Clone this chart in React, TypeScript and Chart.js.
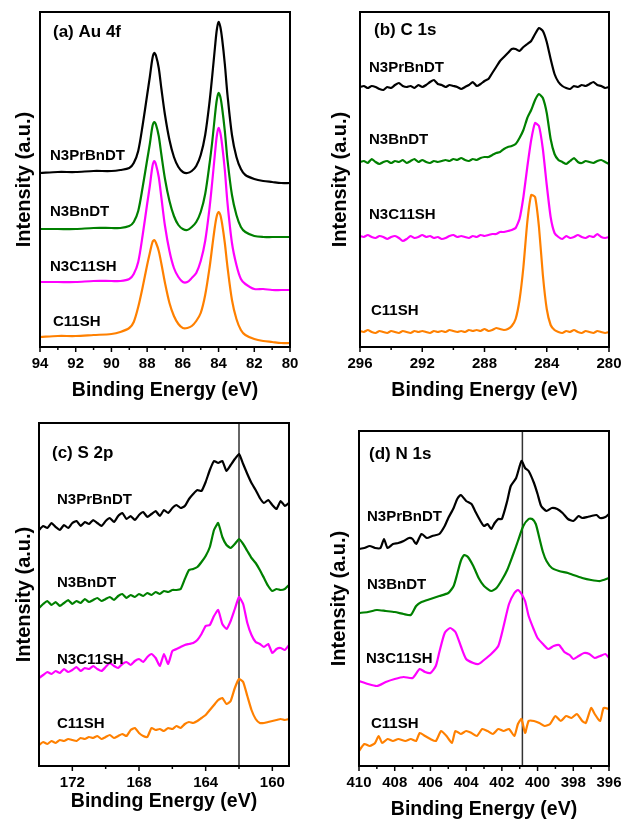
import React, { useEffect, useRef } from 'react';
import { Chart, registerables } from 'chart.js';

Chart.register(...registerables);

const FONT = "'Liberation Sans', Arial, Helvetica, sans-serif";
const SERIES_NAMES = ['N3PrBnDT', 'N3BnDT', 'N3C11SH', 'C11SH'];
const SERIES_COLORS = ['#000000', '#008000', '#ff00ff', '#ff8000'];
const X_TITLE = 'Binding Energy (eV)';
const Y_TITLE = 'Intensity (a.u.)';

// ---------- (a) Au 4f ----------
const auBE = [94, 93, 92, 91, 90, 89.5, 89, 88.75, 88.5, 88.25, 88, 87.85, 87.7, 87.6, 87.5, 87.35, 87.2, 87, 86.75, 86.5, 86.25, 86, 85.75, 85.5, 85.25, 85, 84.75, 84.5, 84.35, 84.2, 84.1, 84, 83.9, 83.8, 83.65, 83.5, 83.25, 83, 82.75, 82.5, 82, 81.5, 81, 80.5, 80];
const auN3PrBnDT = [174, 175, 175, 176, 176, 177, 179, 184, 196, 222, 252, 270, 289, 294, 291, 279, 258, 232, 207, 190, 180, 175, 174, 176, 181, 192, 212, 246, 272, 300, 317, 325, 320, 308, 283, 252, 212, 190, 178, 172, 168, 166, 165, 164, 164];
const auN3BnDT = [118, 118, 118, 119, 119, 119, 121, 125, 136, 160, 187, 203, 221, 225, 222, 211, 192, 168, 146, 131, 122, 118, 117, 120, 125, 135, 153, 184, 206, 232, 247, 254, 250, 239, 216, 187, 152, 132, 120, 115, 111, 110, 110, 110, 110];
const auN3C11SH = [65, 65, 65, 66, 66, 66, 68, 73, 85, 112, 143, 161, 181, 186, 182, 170, 149, 121, 96, 79, 70, 65, 65, 69, 74, 86, 106, 140, 166, 194, 211, 219, 214, 202, 177, 144, 104, 82, 68, 63, 58, 58, 57, 57, 57];
const auC11SH = [10, 11, 11, 12, 13, 15, 19, 25, 40, 60, 82, 94, 105, 107, 104, 96, 83, 64, 44, 31, 23, 19, 19, 21, 26, 34, 52, 80, 101, 121, 131, 135, 132, 123, 104, 80, 47, 28, 17, 12, 8, 6, 5, 4, 4];
const auMajorTicks = [94, 92, 90, 88, 86, 84, 82, 80];
const auMinorTicks = [93, 91, 89, 87, 85, 83, 81];

// ---------- (b) C 1s ----------
const c1sBE = [296, 295.75, 295.5, 295.25, 295, 294.75, 294.5, 294.25, 294, 293.75, 293.5, 293.25, 293, 292.75, 292.5, 292.25, 292, 291.75, 291.5, 291.25, 291, 290.75, 290.5, 290.25, 290, 289.75, 289.5, 289.25, 289, 288.75, 288.5, 288.25, 288, 287.75, 287.5, 287.25, 287, 286.75, 286.5, 286.25, 286, 285.75, 285.5, 285.25, 285, 284.75, 284.5, 284.25, 284, 283.75, 283.5, 283.25, 283, 282.75, 282.5, 282.25, 282, 281.75, 281.5, 281.25, 281, 280.75, 280.5, 280.25, 280];
const c1sN3PrBnDT = [260, 261, 259, 261, 260, 258, 257, 260, 259, 262, 264, 261, 260, 261, 259, 262, 260, 262, 265, 267, 263, 262, 260, 262, 261, 260, 258, 260, 262, 265, 261, 263, 266, 268, 274, 280, 286, 290, 294, 298, 298, 296, 300, 303, 306, 313, 319, 316, 305, 288, 273, 265, 261, 259, 258, 261, 260, 262, 261, 263, 265, 262, 261, 259, 260];
const c1sN3BnDT = [185, 186, 184, 188, 185, 183, 185, 186, 184, 186, 185, 187, 184, 186, 188, 185, 187, 185, 184, 186, 185, 186, 187, 186, 188, 187, 189, 187, 186, 188, 187, 189, 190, 190, 192, 194, 195, 198, 200, 201, 203, 209, 217, 229, 237, 247, 253, 249, 234, 208, 193, 187, 185, 183, 186, 189, 185, 184, 186, 185, 184, 186, 187, 185, 183];
const c1sN3C11SH = [111, 110, 112, 110, 109, 111, 110, 108, 110, 111, 109, 106, 108, 111, 109, 110, 112, 110, 111, 109, 110, 108, 109, 111, 112, 110, 111, 110, 109, 111, 110, 112, 111, 112, 113, 113, 115, 115, 116, 117, 119, 128, 150, 180, 207, 224, 221, 198, 162, 130, 114, 110, 108, 111, 109, 110, 112, 110, 109, 111, 110, 113, 110, 109, 110];
const c1sC11SH = [16, 15, 17, 15, 14, 16, 15, 14, 16, 15, 14, 16, 15, 14, 16, 15, 16, 15, 14, 16, 15, 16, 15, 17, 16, 15, 16, 15, 17, 16, 17, 16, 18, 16, 17, 19, 18, 17, 18, 21, 28, 47, 80, 125, 152, 150, 120, 72, 38, 22, 17, 15, 14, 16, 15, 17, 15, 14, 16, 15, 14, 16, 15, 14, 15];
const c1sMajorTicks = [296, 292, 288, 284, 280];
const c1sMinorTicks = [294, 290, 286, 282];

// ---------- (c) S 2p ----------
const s2pBE = [174, 173.75, 173.5, 173.25, 173, 172.75, 172.5, 172.25, 172, 171.75, 171.5, 171.25, 171, 170.75, 170.5, 170.25, 170, 169.75, 169.5, 169.25, 169, 168.75, 168.5, 168.25, 168, 167.75, 167.5, 167.25, 167, 166.75, 166.5, 166.25, 166, 165.75, 165.5, 165.25, 165, 164.75, 164.5, 164.25, 164, 163.75, 163.5, 163.25, 163, 162.75, 162.5, 162.25, 162, 161.75, 161.5, 161.25, 161, 160.75, 160.5, 160.25, 160, 159.75, 159.5, 159.25, 159];
const s2pN3PrBnDT = [236, 240, 238, 243, 239, 236, 241, 238, 243, 245, 240, 244, 242, 246, 243, 240, 245, 248, 244, 250, 253, 247, 250, 246, 251, 254, 249, 252, 255, 250, 256, 253, 258, 261, 258, 260, 267, 272, 276, 275, 284, 296, 305, 303, 305, 295, 301, 307, 312, 302, 292, 283, 276, 268, 263, 266, 261, 257, 265, 260, 263];
const s2pN3BnDT = [158, 162, 165, 161, 164, 160, 163, 166, 162, 165, 163, 167, 164, 166, 168, 165, 167, 169, 166, 170, 172, 168, 171, 169, 172, 170, 173, 171, 174, 172, 175, 174, 176, 176, 177, 187, 196, 197, 199, 204, 210, 219, 236, 243, 229, 221, 218, 222, 227, 222, 215, 208, 203, 196, 188, 180, 175, 177, 176, 177, 181];
const s2pN3C11SH = [88, 91, 94, 92, 95, 93, 97, 94, 96, 99, 95, 98, 97, 100, 97, 95, 99, 103, 100, 98, 102, 104, 101, 105, 107, 104, 109, 112, 108, 100, 112, 102, 115, 117, 119, 121, 122, 123, 126, 132, 140, 141, 150, 156, 142, 137, 145, 157, 169, 162, 143, 131, 124, 122, 119, 122, 113, 117, 118, 116, 121];
const s2pC11SH = [21, 24, 22, 25, 23, 26, 25, 27, 26, 25, 28, 27, 29, 28, 30, 27, 29, 31, 28, 30, 32, 30, 36, 38, 33, 30, 29, 38, 36, 37, 35, 38, 37, 40, 38, 42, 44, 43, 45, 48, 51, 56, 61, 66, 68, 62, 65, 78, 87, 84, 70, 56, 47, 43, 43, 44, 45, 46, 47, 46, 47];
const s2pMajorTicks = [172, 168, 164, 160];
const s2pMinorTicks = [170, 166, 162];
const s2pMarker = 162;

// ---------- (d) N 1s ----------
const n1sBE_N3PrBnDT = [410, 409.7, 409.4, 409.1, 408.8, 408.6, 408.4, 408.1, 407.8, 407.5, 407.2, 407, 406.8, 406.5, 406.2, 405.9, 405.5, 405.2, 405, 404.7, 404.5, 404.3, 404, 403.7, 403.5, 403.2, 403, 402.8, 402.6, 402.4, 402.2, 402, 401.7, 401.5, 401.2, 400.9, 400.7, 400.5, 400.2, 400, 399.8, 399.5, 399.2, 398.9, 398.6, 398.3, 398, 397.7, 397.5, 397.2, 397, 396.7, 396.5, 396.2, 396];
const n1sN3PrBnDT = [217, 218, 220, 218, 218, 227, 218, 222, 223, 225, 228, 227, 222, 232, 228, 230, 232, 240, 248, 258, 267, 271, 265, 262, 255, 245, 240, 242, 237, 243, 247, 247, 265, 280, 288, 305, 298, 295, 283, 272, 260, 255, 258, 257, 253, 247, 245, 250, 248, 249, 250, 251, 248, 249, 252];
const n1sBE_N3BnDT = [410, 409.5, 409, 408.5, 408, 407.5, 407.1, 406.8, 406.5, 406, 405.5, 405, 404.7, 404.5, 404.3, 404.1, 403.9, 403.6, 403.3, 403, 402.6, 402.3, 402, 401.7, 401.4, 401.1, 400.8, 400.5, 400.3, 400.1, 399.9, 399.7, 399.5, 399.2, 398.8, 398.3, 398, 397.5, 397, 396.5, 396];
const n1sN3BnDT = [153, 154, 156, 155, 154, 152, 151, 160, 164, 167, 170, 173, 180, 192, 205, 211, 209, 200, 188, 180, 175, 178, 186, 196, 210, 225, 240, 247, 247, 242, 228, 214, 205, 198, 195, 193, 191, 188, 186, 185, 188];
const n1sBE_N3C11SH = [410, 409.5, 409, 408.5, 408, 407.5, 407, 406.6, 406.3, 406, 405.7, 405.5, 405.2, 404.9, 404.6, 404.3, 404, 403.6, 403.3, 403, 402.6, 402.2, 401.9, 401.6, 401.3, 401.1, 400.9, 400.7, 400.5, 400.2, 400, 399.7, 399.4, 399.1, 398.8, 398.5, 398.2, 398, 397.7, 397.4, 397.1, 396.8, 396.5, 396.2, 396];
const n1sN3C11SH = [85, 82, 80, 84, 87, 89, 88, 97, 94, 93, 100, 114, 133, 138, 134, 120, 107, 103, 102, 106, 112, 120, 140, 162, 173, 176, 172, 165, 150, 136, 128, 122, 117, 120, 121, 114, 111, 107, 110, 113, 112, 108, 110, 112, 108];
const n1sBE_C11SH = [410, 409.7, 409.4, 409.1, 408.9, 408.7, 408.4, 408.1, 407.8, 407.4, 407.1, 406.8, 406.6, 406.3, 406, 405.7, 405.4, 405.1, 404.8, 404.6, 404.3, 404, 403.7, 403.4, 403.1, 402.8, 402.5, 402.2, 401.9, 401.6, 401.3, 401.1, 400.9, 400.7, 400.5, 400.2, 399.9, 399.6, 399.3, 399, 398.7, 398.4, 398.1, 397.8, 397.5, 397.3, 397, 396.8, 396.5, 396.3, 396];
const n1sC11SH = [15, 22, 20, 23, 30, 23, 27, 25, 27, 25, 27, 25, 33, 30, 27, 25, 35, 30, 23, 35, 32, 35, 33, 30, 37, 35, 32, 37, 35, 37, 30, 42, 47, 33, 45, 45, 43, 40, 42, 50, 45, 50, 48, 52, 45, 43, 58, 52, 45, 58, 57];
const n1sMajorTicks = [410, 408, 406, 404, 402, 400, 398, 396];
const n1sMinorTicks = [409, 407, 405, 403, 401, 399, 397];
const n1sMarker = 400.85;

type Series = { x: number[]; y: number[] };
type PanelDef = {
  key: string;
  left: number; top: number; width: number; height: number;
  area: { left: number; top: number; right: number; bottom: number };
  xMin: number; xMax: number; yMax: number;
  major: number[]; minor: number[];
  series: Series[];
  tension: number;
  marker?: number;
  title: string; titlePos: [number, number];
  labelPos: [number, number][];
  yTitlePad: number; xTitlePad: number;
};

const PANELS: PanelDef[] = [
  {
    key: 'a', left: 0, top: 0, width: 312, height: 411,
    area: { left: 40, top: 12, right: 290, bottom: 347 },
    xMin: 80, xMax: 94, yMax: 335,
    major: auMajorTicks, minor: auMinorTicks,
    series: [
      { x: auBE, y: auN3PrBnDT }, { x: auBE, y: auN3BnDT },
      { x: auBE, y: auN3C11SH }, { x: auBE, y: auC11SH },
    ],
    tension: 0.3,
    title: '(a) Au 4f', titlePos: [53, 32],
    labelPos: [[50, 156], [50, 212], [50, 267], [53, 322]],
    yTitlePad: 12, xTitlePad: 9,
  },
  {
    key: 'b', left: 312, top: 0, width: 313, height: 411,
    area: { left: 48, top: 12, right: 297, bottom: 347 },
    xMin: 280, xMax: 296, yMax: 335,
    major: c1sMajorTicks, minor: c1sMinorTicks,
    series: [
      { x: c1sBE, y: c1sN3PrBnDT }, { x: c1sBE, y: c1sN3BnDT },
      { x: c1sBE, y: c1sN3C11SH }, { x: c1sBE, y: c1sC11SH },
    ],
    tension: 0.15,
    title: '(b) C 1s', titlePos: [62, 30],
    labelPos: [[57, 68], [57, 140], [57, 215], [59, 311]],
    yTitlePad: 16, xTitlePad: 9,
  },
  {
    key: 'c', left: 0, top: 411, width: 312, height: 411,
    area: { left: 39, top: 12, right: 289, bottom: 355 },
    xMin: 159, xMax: 174, yMax: 343,
    major: s2pMajorTicks, minor: s2pMinorTicks,
    series: [
      { x: s2pBE, y: s2pN3PrBnDT }, { x: s2pBE, y: s2pN3BnDT },
      { x: s2pBE, y: s2pN3C11SH }, { x: s2pBE, y: s2pC11SH },
    ],
    tension: 0.15,
    marker: s2pMarker,
    title: '(c) S 2p', titlePos: [52, 42],
    labelPos: [[57, 89], [57, 172], [57, 249], [57, 313]],
    yTitlePad: 12, xTitlePad: 9,
  },
  {
    key: 'd', left: 312, top: 411, width: 313, height: 411,
    area: { left: 47, top: 20, right: 297, bottom: 355 },
    xMin: 396, xMax: 410, yMax: 335,
    major: n1sMajorTicks, minor: n1sMinorTicks,
    series: [
      { x: n1sBE_N3PrBnDT, y: n1sN3PrBnDT }, { x: n1sBE_N3BnDT, y: n1sN3BnDT },
      { x: n1sBE_N3C11SH, y: n1sN3C11SH }, { x: n1sBE_C11SH, y: n1sC11SH },
    ],
    tension: 0.2,
    marker: n1sMarker,
    title: '(d) N 1s', titlePos: [57, 43],
    labelPos: [[55, 106], [55, 174], [54, 248], [59, 313]],
    yTitlePad: 15, xTitlePad: 1,
  },
];

function PanelChart({ p }: { p: PanelDef }) {
  const ref = useRef<HTMLCanvasElement>(null);

  useEffect(() => {
    const canvas = ref.current;
    if (!canvas) return;

    const datasets: any[] = p.series.map((s, i) => ({
      label: SERIES_NAMES[i],
      data: s.x.map((x, j) => ({ x, y: s.y[j] })),
      borderColor: SERIES_COLORS[i],
      backgroundColor: SERIES_COLORS[i],
      borderWidth: 2.2,
      pointRadius: 0,
      tension: p.tension,
      fill: false,
    }));
    if (p.marker !== undefined) {
      datasets.push({
        label: 'marker',
        data: [{ x: p.marker, y: 0 }, { x: p.marker, y: p.yMax }],
        borderColor: '#333333',
        borderWidth: 1.5,
        pointRadius: 0,
        tension: 0,
        fill: false,
      });
    }

    const allTicks = [...p.major, ...p.minor].sort((a, b) => a - b);

    const overlay = {
      id: 'overlay' + p.key,
      afterDraw(chart: any) {
        const { ctx, chartArea: ca } = chart;
        const xs = chart.scales.x;
        ctx.save();
        ctx.strokeStyle = '#000';
        ctx.lineWidth = 2;
        ctx.strokeRect(ca.left, ca.top, ca.right - ca.left, ca.bottom - ca.top);
        ctx.lineWidth = 1.5;
        const drawTick = (v: number, len: number) => {
          const px = xs.getPixelForValue(v);
          ctx.beginPath();
          ctx.moveTo(px, ca.bottom);
          ctx.lineTo(px, ca.bottom + len);
          ctx.stroke();
        };
        p.major.forEach((v) => drawTick(v, 5));
        p.minor.forEach((v) => drawTick(v, 3));
        ctx.fillStyle = '#000';
        ctx.textBaseline = 'middle';
        ctx.textAlign = 'left';
        ctx.font = `bold 17px ${FONT}`;
        ctx.fillText(p.title, p.titlePos[0], p.titlePos[1]);
        ctx.font = `bold 15px ${FONT}`;
        p.labelPos.forEach((pos, i) => ctx.fillText(SERIES_NAMES[i], pos[0], pos[1]));
        ctx.restore();
      },
    };

    const chart = new Chart(canvas, {
      type: 'line',
      data: { datasets },
      options: {
        animation: false,
        responsive: false,
        devicePixelRatio: 1,
        layout: {
          padding: { left: 0, top: p.area.top, right: p.width - p.area.right, bottom: 0 },
        },
        plugins: { legend: { display: false }, tooltip: { enabled: false } },
        scales: {
          x: {
            type: 'linear',
            reverse: true,
            min: p.xMin,
            max: p.xMax,
            afterBuildTicks: (scale: any) => {
              scale.ticks = allTicks.map((v) => ({ value: v }));
            },
            afterFit: (scale: any) => {
              scale.height = p.height - p.area.bottom;
              scale.paddingLeft = 0;
              scale.paddingRight = 0;
            },
            ticks: {
              autoSkip: false,
              maxRotation: 0,
              minRotation: 0,
              padding: 3,
              color: '#000',
              font: { family: FONT, size: 15, weight: 'bold' },
              callback: (v: any) => (p.major.includes(Number(v)) ? String(v) : ''),
            },
            grid: { display: false, drawTicks: true, tickLength: 5 },
            border: { display: false },
            title: {
              display: true,
              text: X_TITLE,
              color: '#000',
              font: { family: FONT, size: 19.5, weight: 'bold' },
              padding: { top: 0, bottom: p.xTitlePad },
            },
          },
          y: {
            type: 'linear',
            min: 0,
            max: p.yMax,
            ticks: { display: false },
            grid: { display: false, drawTicks: false },
            border: { display: false },
            afterFit: (scale: any) => {
              scale.width = p.area.left;
              scale.paddingTop = 0;
              scale.paddingBottom = 0;
            },
            title: {
              display: true,
              text: Y_TITLE,
              color: '#000',
              font: { family: FONT, size: 20, weight: 'bold' },
              padding: { top: p.yTitlePad, bottom: 0 },
            },
          },
        },
      } as any,
      plugins: [overlay],
    });

    return () => chart.destroy();
  }, [p]);

  return (
    <canvas
      ref={ref}
      width={p.width}
      height={p.height}
      style={{ position: 'absolute', left: p.left, top: p.top, width: p.width, height: p.height }}
    />
  );
}

export default function App() {
  return (
    <div style={{ position: 'absolute', left: 0, top: 0, width: 625, height: 822, background: '#fff', overflow: 'hidden' }}>
      {PANELS.map((p) => (
        <PanelChart key={p.key} p={p} />
      ))}
    </div>
  );
}
